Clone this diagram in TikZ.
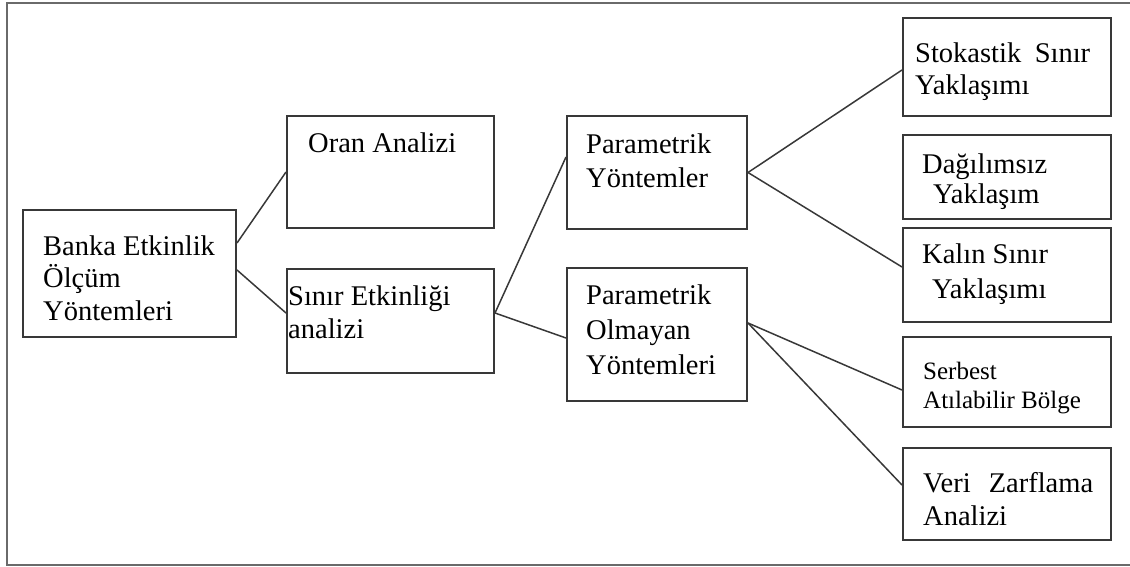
\documentclass[tikz,border=0pt]{standalone}
\usepackage{fontspec}
\setmainfont{Liberation Serif}
\definecolor{framegray}{HTML}{6A6A6A}
\definecolor{edgegray}{HTML}{383838}
\newcommand{\spreadline}[3]{\makebox[#1][s]{#2\hfill #3}}
\begin{document}
\begin{tikzpicture}[x=1pt,y=-1pt,
  box/.style={draw=edgegray,line width=2pt,rectangle,inner sep=0pt,anchor=center},
  link/.style={draw=edgegray,line width=1.5pt},
  lbl/.style={inner sep=0pt,anchor=base west,align=left,text=black},
  fs/.style={font=\fontsize{28.5}{#1}\selectfont}]
\useasboundingbox (0,0) rectangle (1130,567);
% outer frame (open on the right)
\draw[framegray,line width=2.2pt] (1140,3) -- (7,3) -- (7,565) -- (1140,565);

% level 1
\node[box,minimum width=213pt,minimum height=127pt] (banka) at (129.5,273.5) {};
% level 2
\node[box,minimum width=207pt,minimum height=112pt] (oran) at (390.5,172) {};
\node[box,minimum width=207pt,minimum height=104pt] (sinir) at (390.5,321) {};
% level 3
\node[box,minimum width=180pt,minimum height=113pt] (param) at (657,172.5) {};
\node[box,minimum width=180pt,minimum height=133pt] (olmayan) at (657,334.5) {};
% level 4
\node[box,minimum width=208pt,minimum height=98pt] (stok) at (1007,67) {};
\node[box,minimum width=208pt,minimum height=84pt] (dag) at (1007,177) {};
\node[box,minimum width=208pt,minimum height=94pt] (kalin) at (1007,275) {};
\node[box,minimum width=208pt,minimum height=90pt] (serbest) at (1007,382) {};
\node[box,minimum width=208pt,minimum height=92pt] (veri) at (1007,494) {};

% texts (each placed at the baseline of its last line)
\node[lbl,fs=32.5] (banka-t) at (43,320) {Banka Etkinlik\\Ölçüm\\Yöntemleri};
\node[lbl,fs=33] (oran-t) at (308,153) {Oran Analizi};
\node[lbl,fs=33] (sinir-t) at (288,338) {Sınır Etkinliği\\analizi};
\node[lbl,fs=34] (param-t) at (586,187) {Parametrik\\Yöntemler};
\node[lbl,fs=35] (olmayan-t) at (586,374) {Parametrik\\Olmayan\\Yöntemleri};
\node[lbl,fs=32] (stok-t) at (915,95) {\spreadline{175pt}{Stokastik}{Sınır}\\Yaklaşımı};
\node[lbl,fs=30] (dag-t) at (922,203) {Dağılımsız\\\hspace*{11pt}Yaklaşım};
\node[lbl,fs=35] (kalin-t) at (922,298) {Kalın Sınır\\\hspace*{10pt}Yaklaşımı};
\node[lbl,font=\fontsize{25}{29}\selectfont] (serbest-t) at (923,408) {Serbest\\Atılabilir Bölge};
\node[lbl,fs=33] (veri-t) at (923,525) {\spreadline{170pt}{Veri}{Zarflama}\\Analizi};

% connectors
\draw[link] ([yshift=30.5pt]banka.east) -- (oran.west);
\draw[link] ([yshift=3.5pt]banka.east) -- ([yshift=8pt]sinir.west);
\draw[link] ([yshift=8pt]sinir.east) -- ([yshift=15.5pt]param.west);
\draw[link] ([yshift=8pt]sinir.east) -- ([yshift=-3.5pt]olmayan.west);
\draw[link] (param.east) -- ([yshift=-3pt]stok.west);
\draw[link] (param.east) -- ([yshift=8pt]kalin.west);
\draw[link] ([yshift=11.5pt]olmayan.east) -- ([yshift=-8pt]serbest.west);
\draw[link] ([yshift=11.5pt]olmayan.east) -- ([yshift=9pt]veri.west);
\end{tikzpicture}
\end{document}
